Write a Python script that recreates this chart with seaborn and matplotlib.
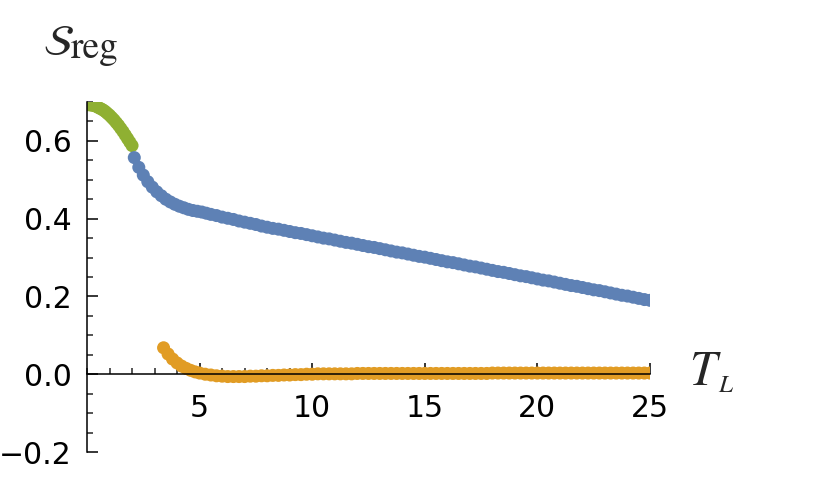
import matplotlib
matplotlib.use("Agg")
import matplotlib.pyplot as plt
import seaborn as sns
import pandas as pd
from matplotlib.ticker import FixedLocator, MultipleLocator, FuncFormatter, FormatStrFormatter

# ---------------- data ----------------
green_x = [0.0, 0.1, 0.2, 0.3, 0.4, 0.5, 0.6, 0.7, 0.8, 0.9, 1.0,
           1.1, 1.2, 1.3, 1.4, 1.5, 1.6, 1.7, 1.8, 1.9, 2.0]
green_y = [0.693, 0.693, 0.692, 0.691, 0.689, 0.686, 0.683, 0.680, 0.676, 0.671, 0.666,
           0.660, 0.654, 0.647, 0.640, 0.632, 0.624, 0.615, 0.606, 0.597, 0.588]

blue_x = [2.1, 2.3, 2.5, 2.7, 2.9, 3.1, 3.3, 3.5, 3.7, 3.9, 4.1, 4.3, 4.5, 4.7, 4.9,
          5.1, 5.3, 5.5, 5.75, 6.0, 6.25, 6.5, 6.75, 7.0, 7.25, 7.5,
          7.75, 8.0, 8.25, 8.5, 8.75, 9.0, 9.25, 9.5, 9.75,
          10.0, 10.25, 10.5, 10.75, 11.0, 11.25, 11.5, 11.75,
          12.0, 12.25, 12.5, 12.75, 13.0, 13.25, 13.5, 13.75,
          14.0, 14.25, 14.5, 14.75, 15.0, 15.25, 15.5, 15.75,
          16.0, 16.25, 16.5, 16.75, 17.0, 17.25, 17.5, 17.75,
          18.0, 18.25, 18.5, 18.75, 19.0, 19.25, 19.5, 19.75,
          20.0, 20.25, 20.5, 20.75, 21.0, 21.25, 21.5, 21.75,
          22.0, 22.25, 22.5, 22.75, 23.0, 23.25, 23.5, 23.75,
          24.0, 24.25, 24.5, 24.75, 25.0, 25.25]
blue_y = [0.557, 0.532, 0.512, 0.495, 0.481, 0.469, 0.459, 0.450, 0.443, 0.437, 0.432, 0.428, 0.424, 0.421, 0.419,
          0.417, 0.414, 0.411, 0.408, 0.404, 0.401, 0.398, 0.394, 0.391, 0.388, 0.385,
          0.381, 0.378, 0.375, 0.373, 0.370, 0.367, 0.364, 0.362, 0.359,
          0.356, 0.353, 0.350, 0.348, 0.345, 0.342, 0.339, 0.337,
          0.334, 0.331, 0.328, 0.326, 0.323, 0.320, 0.317, 0.314,
          0.312, 0.309, 0.306, 0.303, 0.301, 0.298, 0.295, 0.292,
          0.289, 0.287, 0.284, 0.281, 0.278, 0.276, 0.273, 0.270,
          0.267, 0.264, 0.262, 0.259, 0.256, 0.253, 0.251, 0.248,
          0.245, 0.242, 0.240, 0.237, 0.234, 0.231, 0.228, 0.226,
          0.223, 0.220, 0.217, 0.215, 0.212, 0.209, 0.206, 0.203,
          0.201, 0.198, 0.195, 0.192, 0.190, 0.187]

orange_x = [3.4, 3.6, 3.8, 4.0, 4.2, 4.4, 4.6, 4.8, 5.0,
            5.25, 5.5, 5.75, 6.0, 6.25, 6.5, 6.75, 7.0, 7.25, 7.5, 7.75,
            8.0, 8.25, 8.5, 8.75, 9.0, 9.25, 9.5, 9.75,
            10.0, 10.25, 10.5, 10.75, 11.0, 11.25, 11.5, 11.75,
            12.0, 12.25, 12.5, 12.75, 13.0, 13.25, 13.5, 13.75,
            14.0, 14.25, 14.5, 14.75, 15.0, 15.25, 15.5, 15.75,
            16.0, 16.25, 16.5, 16.75, 17.0, 17.25, 17.5, 17.75,
            18.0, 18.25, 18.5, 18.75, 19.0, 19.25, 19.5, 19.75,
            20.0, 20.25, 20.5, 20.75, 21.0, 21.25, 21.5, 21.75,
            22.0, 22.25, 22.5, 22.75, 23.0, 23.25, 23.5, 23.75,
            24.0, 24.25, 24.5, 24.75, 25.0, 25.25]
orange_y = [0.068, 0.052, 0.039, 0.029, 0.021, 0.015, 0.010, 0.006, 0.003,
            0.000, -0.002, -0.004, -0.005, -0.006, -0.006, -0.006, -0.006, -0.005, -0.005, -0.004,
            -0.004, -0.003, -0.003, -0.002, -0.002, -0.001, -0.001, 0.000,
            0.000, 0.001, 0.001, 0.001, 0.001, 0.001, 0.001, 0.001,
            0.002, 0.002, 0.002, 0.002, 0.002, 0.002, 0.002, 0.002,
            0.002, 0.002, 0.002, 0.002, 0.002, 0.002, 0.002, 0.002,
            0.002, 0.002, 0.002, 0.002, 0.002, 0.002, 0.002, 0.002,
            0.003, 0.003, 0.003, 0.003, 0.003, 0.003, 0.003, 0.003,
            0.003, 0.003, 0.003, 0.003, 0.003, 0.003, 0.003, 0.003,
            0.003, 0.003, 0.003, 0.003, 0.003, 0.003, 0.003, 0.003,
            0.003, 0.003, 0.003, 0.003, 0.003, 0.003]

x_major = [5, 10, 15, 20, 25]
y_major = [-0.2, 0.0, 0.2, 0.4, 0.6]

# ---------------- style ----------------
sns.set_style("ticks")
plt.rcParams["font.family"] = ["DejaVu Sans"]
plt.rcParams["mathtext.fontset"] = "stix"

df = pd.concat([
    pd.DataFrame({"x": green_x, "y": green_y, "s": "g"}),
    pd.DataFrame({"x": blue_x, "y": blue_y, "s": "b"}),
    pd.DataFrame({"x": orange_x, "y": orange_y, "s": "o"}),
], ignore_index=True)
palette = {"g": "#8FB032", "b": "#5E81B5", "o": "#E19C24"}

fig = plt.figure(figsize=(8.3, 4.79), dpi=100)
fig.patch.set_facecolor("white")
ax = fig.add_axes([87 / 830, 1 - 452 / 479, (650 - 87) / 830, (452 - 102) / 479])

sns.scatterplot(data=df, x="x", y="y", hue="s", palette=palette, s=88,
                linewidth=0, edgecolor="none", legend=False, ax=ax, zorder=1)

ax.set_xlim(0, 25)
ax.set_ylim(-0.2, 0.70)
ax.set_xlabel("")
ax.set_ylabel("")

for side in ["top", "right"]:
    ax.spines[side].set_visible(False)
ax.spines["bottom"].set_position(("data", 0))
for side in ["left", "bottom"]:
    ax.spines[side].set_linewidth(1.1)
    ax.spines[side].set_color("black")
    ax.spines[side].set_zorder(3)

ax.xaxis.set_major_locator(FixedLocator(x_major))
ax.xaxis.set_minor_locator(MultipleLocator(1))
ax.yaxis.set_major_locator(FixedLocator(y_major))
ax.yaxis.set_minor_locator(MultipleLocator(0.05))
ax.yaxis.set_major_formatter(FuncFormatter(lambda v, p: f"{v:.1f}".replace("-", "\u2212")))
ax.xaxis.set_major_formatter(FormatStrFormatter("%d"))

ax.tick_params(axis="both", which="major", direction="in", length=8, width=1.1,
               labelsize=21.5, colors="black")
ax.tick_params(axis="both", which="minor", direction="in", length=4.5, width=1.1)
ax.tick_params(axis="x", which="major", pad=14)
ax.tick_params(axis="y", which="major", pad=11)

# axis labels (Mathematica style, placed at the axis ends)
fig.text(43 / 830, 1 - 55 / 479, r"$\mathcal{S}$", fontsize=31, va="baseline", ha="left")
fig.text(71 / 830, 1 - 58 / 479, "reg", family="STIXGeneral", fontsize=27,
         va="baseline", ha="left")
fig.text(689 / 830, 1 - 385 / 479, "T", family="STIXGeneral", style="italic",
         fontsize=35, va="baseline", ha="left")
fig.text(718 / 830, 1 - 392 / 479, "L", family="STIXGeneral", style="italic",
         fontsize=18, va="baseline", ha="left")

fig.savefig("out.png", dpi=100, facecolor="white")
